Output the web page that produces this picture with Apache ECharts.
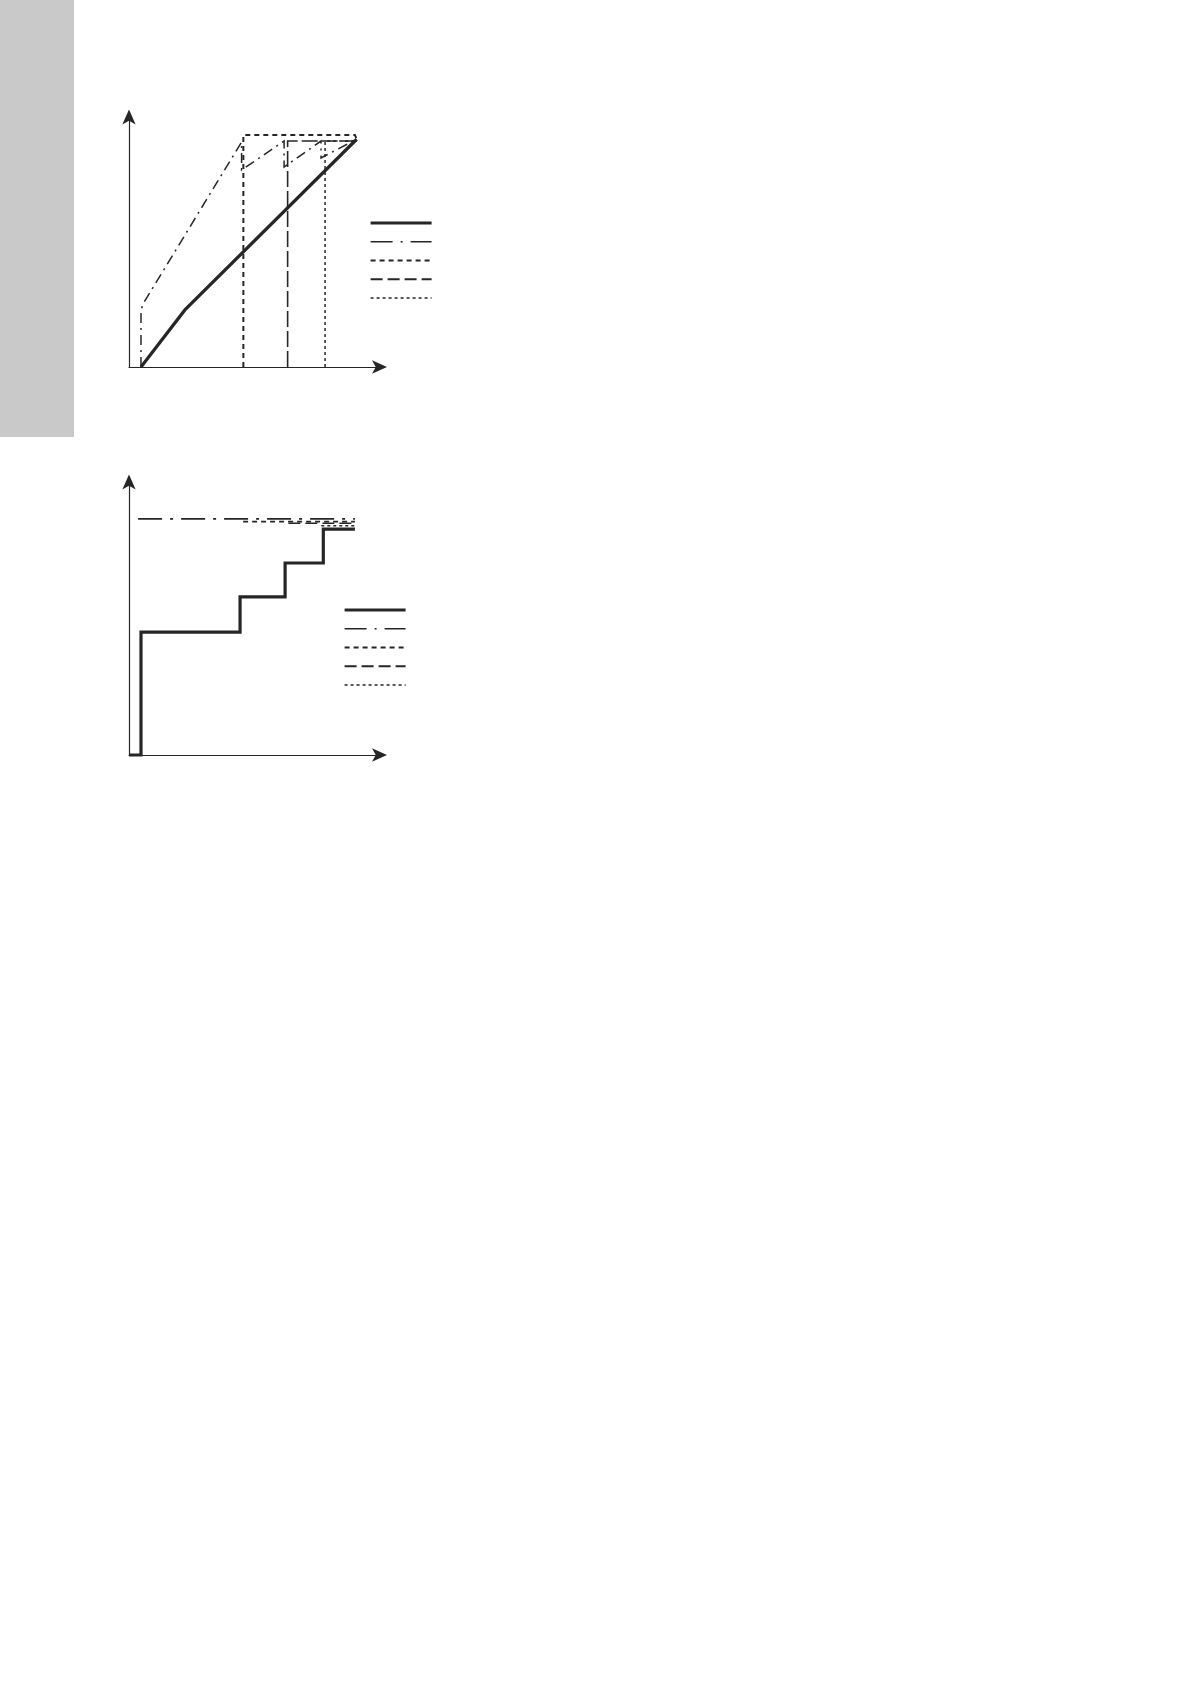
<!DOCTYPE html>
<html>
<head>
<meta charset="utf-8">
<script src="https://cdn.jsdelivr.net/npm/echarts@6/dist/echarts.min.js"></script>
<style>
html,body{margin:0;padding:0;background:#fff;}
#c{width:1190px;height:1684px;}
</style>
</head>
<body>
<div id="c"></div>
<script>
// ---- Data (axis units 0..100 on both axes) ----
const topNames = ['S1', 'S2', 'S3', 'S4', 'S5'];
const botNames = ['T1', 'T2', 'T3', 'T4', 'T5'];

const topSolid = [[4.74, 0], [22.1, 22.6], [90.0, 90.2]];
const topDashDot = [[4.74, 0], [4.74, 22.6], [5.73, 25.3], [44.5, 89.1], [44.5, 78.0], [61.3, 89.5], [61.3, 79.2], [75.9, 89.5], [75.9, 82.8], [90.0, 90.2]];
const topShortDash = [[45.2, 0], [45.2, 91.9], [89.3, 91.9], [90.0, 90.2]];
const topLongDash = [[62.7, 0], [62.7, 89.5], [90.0, 89.5]];
const topDotted = [[77.5, 0], [77.5, 89.5], [90.0, 89.5]];

const botSolid = [[0, 0], [4.74, 0], [4.74, 44.6], [43.9, 44.6], [43.9, 57.4], [61.7, 57.4], [61.7, 69.7], [76.8, 69.7], [76.8, 82.0], [89.3, 82.0]];
const botDashDot = [[3.6, 85.7], [89.3, 85.7]];
const botShortDash = [[45.1, 84.7], [89.3, 84.7]];
const botLongDash = [[63.0, 84.1], [89.3, 84.1]];
const botDotted = [[76.0, 83.2], [89.3, 83.2]];

// ---- Styles ----
const ink = '#262626';
const styles = [
  { width: 3.2, type: 'solid' },
  { width: 1.5, type: [10, 5, 2, 5] },
  { width: 2, type: [5, 4] },
  { width: 1.6, type: [16, 4] },
  { width: 1.5, type: [3, 3] }
];
const botStyles = [
  { width: 3.2, type: 'solid' },
  { width: 1.6, type: [24, 8, 3, 8] },
  { width: 1.6, type: [5, 4] },
  { width: 1.6, type: [12, 5] },
  { width: 1.4, type: [3, 3] }
];
const legendStyles = [
  { width: 3.2, type: 'solid' },
  { width: 1.4, type: [22, 8, 2, 8] },
  { width: 2, type: [5, 4] },
  { width: 2, type: [12, 5] },
  { width: 1.5, type: [3, 3] }
];

function mkAxisLine() {
  return { show: true, onZero: false, symbol: ['none', 'arrow'], symbolSize: [10, 15], symbolOffset: [0, 5], lineStyle: { color: ink, width: 1.2 } };
}
function mkAxis(gi) {
  return { type: 'value', gridIndex: gi, min: 0, max: 100, axisLine: mkAxisLine(), axisTick: { show: false }, axisLabel: { show: false }, splitLine: { show: false } };
}
function mkSeries(name, data, st, gi) {
  return {
    name: name, type: 'line', xAxisIndex: gi, yAxisIndex: gi, data: data,
    symbol: 'none', silent: true, animation: false, clip: false,
    lineStyle: { color: ink, width: st.width, type: st.type, cap: 'butt', join: 'miter' }
  };
}
function mkLegend(names, left, top) {
  return {
    orient: 'vertical', left: left, top: top, padding: 0,
    itemWidth: 61, itemHeight: 10, itemGap: 10.75,
    selectedMode: false,
    formatter: function () { return ''; },
    textStyle: { fontSize: 2, lineHeight: 2 },
    itemStyle: { opacity: 0, color: 'transparent', borderWidth: 0 },
    data: names.map(function (n, i) {
      return { name: n, lineStyle: { color: ink, width: legendStyles[i].width, type: legendStyles[i].type, cap: 'butt' } };
    })
  };
}

const topData = [topSolid, topDashDot, topShortDash, topLongDash, topDotted];
const botData = [botSolid, botDashDot, botShortDash, botLongDash, botDotted];

const series = [];
topData.forEach(function (d, i) { series.push(mkSeries(topNames[i], d, styles[i], 0)); });
botData.forEach(function (d, i) { series.push(mkSeries(botNames[i], d, botStyles[i], 1)); });

const chart = echarts.init(document.getElementById('c'), null, { renderer: 'canvas' });
chart.setOption({
  backgroundColor: '#ffffff',
  animation: false,
  graphic: [{
    type: 'rect', left: 0, top: 0, z: -10,
    shape: { width: 74, height: 437 },
    style: { fill: '#c9c9c9' }
  }],
  grid: [
    { left: 129, top: 114.5, width: 253, height: 252.5, containLabel: false },
    { left: 129, top: 479.5, width: 253, height: 275.5, containLabel: false }
  ],
  xAxis: [mkAxis(0), mkAxis(1)],
  yAxis: [mkAxis(0), mkAxis(1)],
  legend: [mkLegend(topNames, 369, 219), mkLegend(botNames, 343, 606)],
  series: series
});
</script>
</body>
</html>
